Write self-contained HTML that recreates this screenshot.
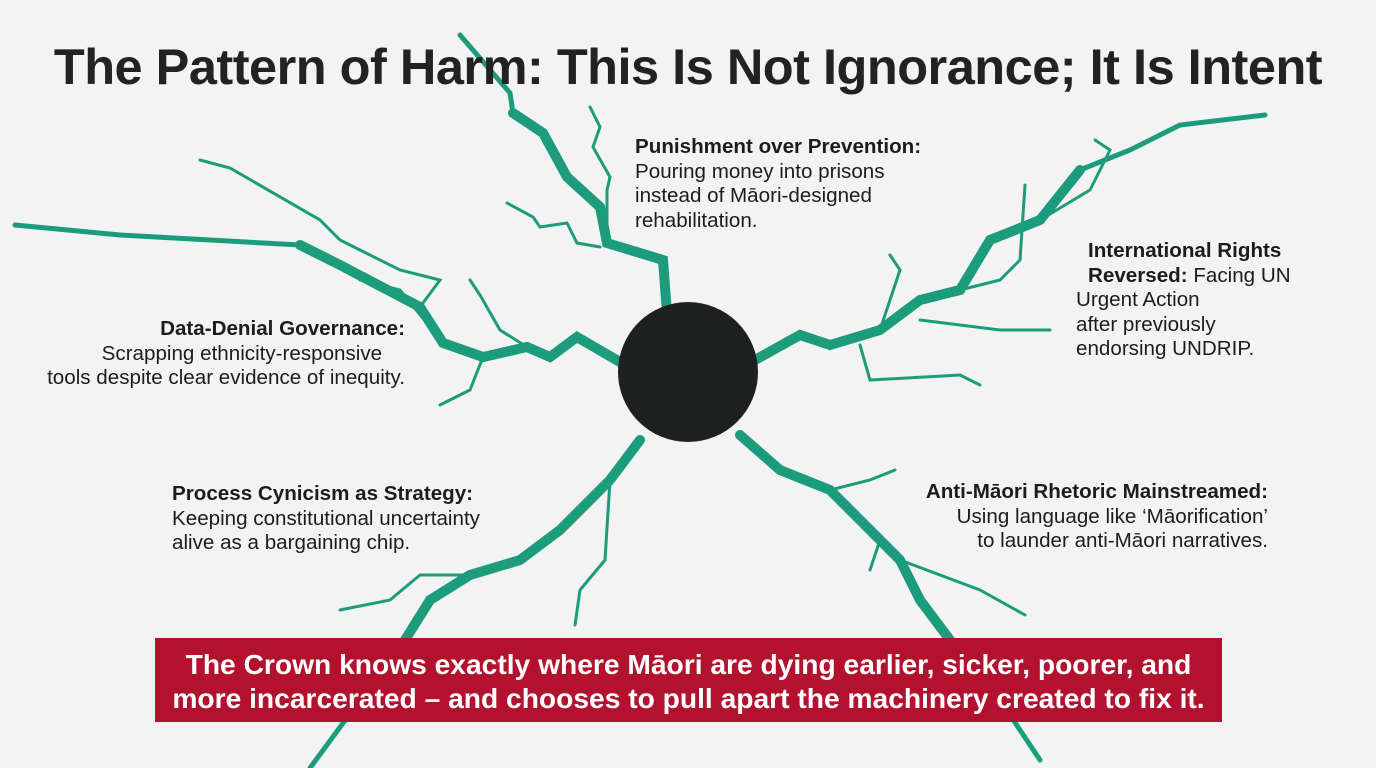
<!DOCTYPE html>
<html><head><meta charset="utf-8"><style>
body{margin:0;width:1376px;height:768px;background:#f3f3f3;overflow:hidden;position:relative;font-family:"Liberation Sans",Arial,sans-serif;color:#1c1c1c}
.t{position:absolute;font-size:20.6px;line-height:24.5px}
.t b{font-weight:700}
h1{position:absolute;left:0;top:37px;width:1376px;text-align:center;margin:0;font-size:50.5px;font-weight:700;color:#222;letter-spacing:-0.5px}
.ban{position:absolute;left:155px;top:638px;width:1067px;height:84px;background:#b3122f;color:#fff;font-weight:700;font-size:28.2px;line-height:34px;text-align:center;padding-top:9px;box-sizing:border-box;white-space:nowrap}
</style></head><body>
<svg width="1376" height="768" style="position:absolute;left:0;top:0" fill="none" stroke="#1c9c7c" stroke-linejoin="miter" stroke-linecap="round">
<g stroke-width="10">
<polyline points="667,313 663,260 607,243 600,207 567,177 543,133 513,113"/>
<polyline points="620,362 577,337 550,357 527,347 483,357 443,343 420,307 340,265 300,245"/>
<polyline points="755,360 800,335 830,345 880,330 920,300 960,290 990,240 1040,220 1080,170"/>
<polyline points="640,440 610,480 590,500 560,530 520,560 470,575 430,600 405,640"/>
<polyline points="740,435 780,470 830,490 860,520 900,560 920,600 950,640"/>
</g>
<g stroke-width="5">
<polyline points="513,113 510,93 460,35"/>
<polyline points="300,245 120,235 15,225"/>
<polyline points="1080,170 1130,150 1180,125 1265,115"/>
<polyline points="405,640 360,700 310,768"/>
<polyline points="950,640 1000,700 1040,760"/>
</g>
<g stroke-width="3">
<polyline points="607,243 607,190 610,177 593,147 600,127 590,107"/>
<polyline points="600,247 577,243 567,223 540,227 533,217 507,203"/>
<polyline points="527,347 500,330 480,295 470,280"/>
<polyline points="483,357 470,390 440,405"/>
<polyline points="420,307 440,280 400,270 340,240 320,220 230,168 200,160"/>
<polyline points="443,343 400,290 360,280 345,265"/>
<polyline points="880,330 900,270 890,255"/>
<polyline points="960,290 1000,280 1020,260 1025,185"/>
<polyline points="1040,220 1090,190 1110,150 1095,140"/>
<polyline points="860,345 870,380 960,375 980,385"/>
<polyline points="920,320 1000,330 1050,330"/>
<polyline points="470,575 420,575 390,600 340,610"/>
<polyline points="610,480 605,560 580,590 575,625"/>
<polyline points="830,490 870,480 895,470"/>
<polyline points="900,560 980,590 1025,615"/>
<polyline points="860,520 880,540 870,570"/>
</g>
<circle cx="688" cy="372" r="70" fill="#1f2020" stroke="none"/>
</svg>
<h1>The Pattern of Harm: This Is Not Ignorance; It Is Intent</h1>
<div class="t" style="left:635px;top:135px"><b>Punishment over Prevention:</b><br>Pouring money into prisons<br>instead of Māori-designed<br>rehabilitation.</div>
<div class="t" style="left:1076px;top:239px"><b style="margin-left:12px">International Rights</b><br><b style="margin-left:12px">Reversed:</b> Facing UN<br>Urgent Action<br>after previously<br>endorsing UNDRIP.</div>
<div class="t" style="left:0px;top:317px;width:405px;text-align:right;white-space:nowrap"><b>Data-Denial Governance:</b><br>Scrapping ethnicity-responsive&nbsp;&nbsp;&nbsp;&nbsp;<br>tools despite clear evidence of inequity.</div>
<div class="t" style="left:172px;top:482px"><b>Process Cynicism as Strategy:</b><br>Keeping constitutional uncertainty<br>alive as a bargaining chip.</div>
<div class="t" style="left:840px;top:480px;width:428px;text-align:right"><b>Anti-Māori Rhetoric Mainstreamed:</b><br>Using language like ‘Māorification’<br>to launder anti-Māori narratives.</div>
<div class="ban">The Crown knows exactly where Māori are dying earlier, sicker, poorer, and<br>more incarcerated – and chooses to pull apart the machinery created to fix it.</div>
</body></html>
